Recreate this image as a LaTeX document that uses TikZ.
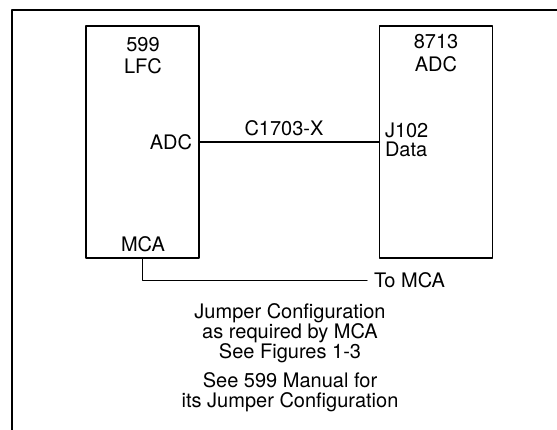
\documentclass[tikz,border=0pt]{standalone}
\usepackage{fontspec}
\setmainfont{TeX Gyre Heros}
\begin{document}
\begin{tikzpicture}[x=1pt,y=-1pt,line join=round,line cap=round,font=\fontsize{20}{22}\selectfont]
	\tikzset{every node/.style={inner sep=0pt,outer sep=0pt},
		unit/.style={draw,line width=1.4pt,minimum width=113pt,minimum height=232pt},
		wire/.style={line width=1.3pt}}
	\useasboundingbox (0,0) rectangle (557,430);
	\draw[line width=1.5pt] (557,10)--(12,10)--(12,430);
	% the two units
	\node[unit] (lfc) at (142.5,142) {};
	\node[unit] (adc) at (436,142) {};
	% labels
	\foreach \n/\x/\y/\a/\t in {
		lfcnum/143/52/base/599, lfcname/143/74/base/LFC,
		adcnum/436/49/base/8713, adcname/436/72/base/ADC,
		lfcport/192/150/base east/ADC, mcaport/143/252/base/MCA,
		jport/385/138/base west/J102, jdata/385/157/base west/Data,
		cable/284/136/base/C1703-X, tomca/374/288/base west/To MCA}
		\node[anchor=\a] (\n) at (\x,\y) {\t};
	\foreach \n/\y/\t in {
		noteA/319/Jumper Configuration, noteB/339/as required by MCA,
		noteC/359/See Figures 1-3, noteD/388/See 599 Manual for,
		noteE/407/its Jumper Configuration}
		\node[anchor=base] (\n) at (290,\y) {\t};
	% connectors
	\draw[wire] (lfc.east)--(adc.west);
	\draw[wire] (lfc.south) |- ([xshift=-7pt]tomca.west);
\end{tikzpicture}
\end{document}
